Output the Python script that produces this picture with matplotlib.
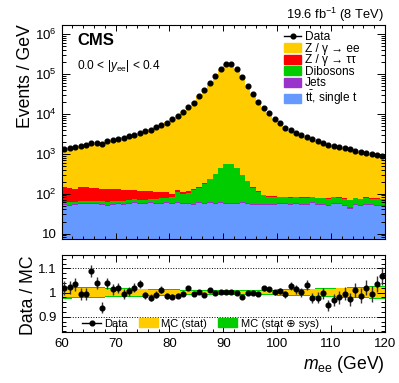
import numpy as np
import matplotlib
matplotlib.use("Agg")
import matplotlib.pyplot as plt
from matplotlib.lines import Line2D
from matplotlib.patches import Patch
from matplotlib.ticker import FuncFormatter, MultipleLocator, LogLocator

plt.rcParams['font.family'] = ['Liberation Sans', 'DejaVu Sans']
plt.rcParams['mathtext.fontset'] = 'custom'
plt.rcParams['mathtext.rm'] = 'Liberation Sans'
plt.rcParams['mathtext.it'] = 'Liberation Sans:italic'
plt.rcParams['mathtext.bf'] = 'Liberation Sans:bold'

# 1 GeV bins, 60 -> 120 GeV
edges = np.arange(60, 121, 1)
centers = edges[:-1] + 0.5

# events / GeV
data = np.array([
    1274, 1396, 1429, 1514, 1632, 1830, 1830, 1799, 2138, 2265,
    2399, 2541, 2786, 3020, 3388, 3651, 4027, 4597, 5248, 6026,
    7286, 8810, 11090, 14540, 19050, 27370, 39360, 60260, 90160, 134900,
    175800, 179900, 134900, 83180, 49550, 30720, 20180, 14290, 10290, 7499,
    5957, 4519, 3868, 3311, 2951, 2630, 2344, 2089, 1862, 1698,
    1603, 1479, 1349, 1274, 1175, 1090, 1012, 972, 933, 866], dtype=float)

# data / MC
ratio = np.array([
    1.020, 1.021, 1.034, 0.994, 0.994, 1.089, 1.040, 0.937, 1.038, 1.013,
    1.020, 0.993, 1.006, 1.019, 1.036, 0.988, 0.979, 0.991, 1.012, 0.984,
    0.983, 0.986, 0.995, 1.020, 0.995, 1.001, 0.991, 1.010, 0.997, 1.003,
    1.003, 1.003, 0.997, 0.983, 0.999, 0.999, 0.994, 1.017, 1.014, 1.001,
    1.006, 0.993, 1.027, 1.013, 1.001, 1.030, 0.979, 0.979, 0.997, 0.948,
    0.969, 0.980, 0.995, 0.972, 1.010, 0.987, 1.020, 0.994, 1.035, 1.068])

# backgrounds
ttbar = np.array([
    52, 50, 51, 56, 55, 54, 55, 53, 50, 52,
    54, 53, 55, 57, 56, 55, 57, 54, 56, 57,
    55, 58, 54, 56, 52, 57, 56, 57, 56, 58,
    55, 54, 56, 57, 55, 51, 53, 52, 52, 53,
    54, 55, 53, 54, 52, 52, 58, 52, 51, 50,
    56, 55, 50, 42, 52, 50, 53, 52, 50, 49], dtype=float)
jets = np.array([3] * 60, dtype=float)
dibosons = np.array([
    6, 7, 6, 8, 9, 7, 8, 8, 9, 9,
    10, 10, 11, 12, 12, 13, 14, 15, 17, 19,
    23, 48, 41, 45, 67, 80, 120, 166, 247, 367,
    486, 486, 367, 230, 145, 88, 55, 36, 27, 27,
    24, 23, 22, 23, 22, 24, 21, 22, 23, 21,
    21, 20, 22, 24, 21, 20, 22, 20, 21, 20], dtype=float)
ztautau = np.array([
    85, 82, 68, 80, 78, 76, 74, 68, 65, 64,
    60, 54, 56, 50, 47, 44, 42, 38, 35, 30,
    16, 11, 10, 9, 8, 8, 7, 7, 6, 6,
    6, 5, 5, 5, 4, 4, 4, 3, 3, 3,
    3, 3, 3, 3, 3, 2, 2, 2, 2, 2,
    2, 2, 2, 2, 2, 2, 2, 2, 2, 2], dtype=float)

# relative MC uncertainties
mc_stat = np.array([
    .020, .020, .019, .019, .018, .018, .017, .017, .016, .016,
    .015, .015, .014, .014, .013, .013, .012, .011, .011, .010,
    .010, .009, .008, .008, .007, .006, .006, .005, .005, .004,
    .004, .004, .004, .005, .005, .006, .006, .007, .007, .008,
    .009, .009, .010, .011, .012, .012, .013, .014, .015, .015,
    .016, .017, .017, .018, .019, .019, .020, .021, .021, .022])
mc_sys = np.array([
    .015, .015, .014, .014, .014, .013, .013, .013, .012, .012,
    .012, .011, .011, .011, .010, .010, .010, .010, .009, .009,
    .009, .009, .008, .008, .008, .008, .008, .008, .008, .008,
    .008, .008, .008, .008, .008, .008, .008, .008, .008, .009,
    .009, .009, .009, .010, .010, .010, .010, .011, .011, .011,
    .012, .012, .012, .013, .013, .013, .014, .014, .014, .015])

mc_total = data / ratio
zee = mc_total - ttbar - jets - dibosons - ztautau

c_yellow = '#FFCC00'
c_red = '#FF0000'
c_green = '#00CC00'
c_purple = '#9933CC'
c_blue = '#6699FF'

fig = plt.figure(figsize=(3.99, 3.83), dpi=100)
ax = fig.add_axes([0.1546, 0.376, 0.8103, 0.5595])
rax = fig.add_axes([0.1546, 0.1332, 0.8103, 0.2008])

# stacked histogram, drawn from the top layer down
cum = ttbar + jets + dibosons + ztautau + zee
for vals, col in [(cum, c_yellow),
                  (ttbar + jets + dibosons + ztautau, c_red),
                  (ttbar + jets + dibosons, c_green),
                  (ttbar + jets, c_purple),
                  (ttbar, c_blue)]:
    ax.stairs(vals, edges, baseline=1, fill=True, color=col, lw=0)

ax.errorbar(centers, data, yerr=np.sqrt(data), fmt='o', color='black',
            ms=3.4, elinewidth=1, capsize=0)

ax.set_yscale('log')
ax.set_xlim(60, 120)
ax.set_ylim(7.3, 1.7e6)
ax.set_ylabel('Events / GeV', fontsize=12.7, loc='top', labelpad=1)
ax.set_xticklabels([])


def logfmt(v, pos):
    n = int(round(np.log10(v)))
    if n == 1:
        return '10'
    return r'$10^{%d}$' % n


ax.yaxis.set_major_locator(LogLocator(base=10, numticks=10))
ax.yaxis.set_minor_locator(LogLocator(base=10, subs=np.arange(2, 10), numticks=20))
ax.yaxis.set_major_formatter(FuncFormatter(logfmt))
ax.yaxis.set_minor_formatter(FuncFormatter(lambda v, p: ''))

for a in (ax, rax):
    a.xaxis.set_major_locator(MultipleLocator(10))
    a.xaxis.set_minor_locator(MultipleLocator(2))
    a.tick_params(which='both', direction='in', top=True, right=True,
                  width=0.7, labelsize=9.5)
    a.tick_params(axis='x', which='major', length=4)
    a.tick_params(axis='x', which='minor', length=2.2)
    for s in a.spines.values():
        s.set_linewidth(0.8)
ax.tick_params(axis='y', which='major', length=6)
ax.tick_params(axis='y', which='minor', length=3)

handles = [Line2D([], [], color='black', marker='o', ms=3.4, lw=1),
           Patch(color=c_yellow), Patch(color=c_red), Patch(color=c_green),
           Patch(color=c_purple), Patch(color=c_blue)]
labels = ['Data', 'Z / γ → ee', 'Z / γ → ττ', 'Dibosons', 'Jets',
          r'$\mathrm{t\bar{t}}$, single t']
fig.legend(handles, labels, loc='upper left', bbox_to_anchor=(0.712, 0.918),
           frameon=False, fontsize=8.6, handlelength=1.45, handleheight=0.8,
           handletextpad=0.3, labelspacing=-0.04, borderpad=0, borderaxespad=0)

fig.text(0.193, 0.914, 'CMS', fontsize=12, fontweight='bold', va='top')
fig.text(0.193, 0.819, r'0.0 < |$y_{\mathrm{ee}}$| < 0.4', fontsize=8.6,
         va='baseline')
fig.text(0.962, 0.950, r'19.6 fb$^{-1}$ (8 TeV)', fontsize=9.3,
         ha='right', va='baseline')

# ratio panel
tot = np.sqrt(mc_stat ** 2 + mc_sys ** 2)
ext = lambda v: np.append(v, v[-1])
rax.fill_between(edges, ext(1 - tot), ext(1 + tot), step='post',
                 color=c_green, lw=0)
rax.fill_between(edges, ext(1 - mc_stat), ext(1 + mc_stat), step='post',
                 color=c_yellow, lw=0)
rax.axhline(1.1, color='black', ls=':', lw=0.7)
rax.axhline(0.9, color='black', ls=':', lw=0.7)
rax.errorbar(centers, ratio, yerr=ratio / np.sqrt(data), fmt='o',
             color='black', ecolor='#333333', ms=3.4, elinewidth=1, capsize=0)

rax.set_xlim(60, 120)
rax.set_ylim(0.837, 1.155)
rax.yaxis.set_major_locator(MultipleLocator(0.1))
rax.yaxis.set_minor_locator(MultipleLocator(0.02))
rax.yaxis.set_major_formatter(FuncFormatter(lambda v, p: '%g' % round(v, 2)))
rax.tick_params(axis='y', which='major', length=6)
rax.tick_params(axis='y', which='minor', length=3)
rax.tick_params(axis='x', which='major', length=5, pad=4)
rax.set_ylabel('Data / MC', fontsize=12.7, loc='top', labelpad=1)
rax.set_xlabel(r'$m_{\mathrm{ee}}$ (GeV)', fontsize=12.7, loc='right',
               labelpad=3)

rhandles = [Line2D([], [], color='black', marker='o', ms=3.4, lw=1),
            Patch(color=c_yellow), Patch(color=c_green)]
rlabels = ['Data', 'MC (stat)', 'MC (stat ⊕ sys)']
rax.legend(rhandles, rlabels, loc='lower left', bbox_to_anchor=(0.06, 0.03),
           ncol=3, frameon=False, fontsize=8, handlelength=1.7,
           handleheight=0.8, handletextpad=0.3, columnspacing=1.0,
           borderpad=0.1, borderaxespad=0)

fig.savefig('out.png', dpi=100)
